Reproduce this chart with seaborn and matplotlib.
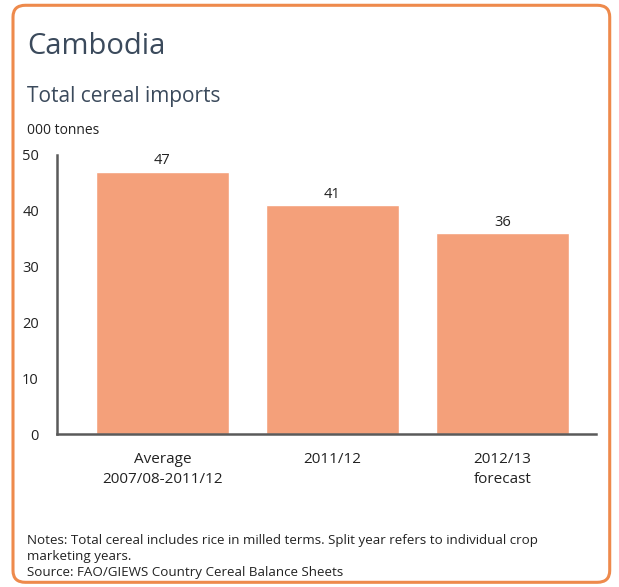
import matplotlib
matplotlib.use("Agg")
import matplotlib.pyplot as plt
import seaborn as sns
import pandas as pd
from matplotlib.patches import FancyBboxPatch

categories = ["Average\n2007/08-2011/12", "2011/12", "2012/13\nforecast"]
imports = [47, 41, 36]

sns.set_style("white")
plt.rcParams["font.family"] = ["Open Sans", "DejaVu Sans"]

df = pd.DataFrame({"period": categories, "imports": imports})

fig = plt.figure(figsize=(6.19, 5.87), dpi=100)
ax = fig.add_axes([0.092, 0.2606, 0.871, 0.4754])

sns.barplot(data=df, x="period", y="imports", color="#F4A07A", saturation=1,
            width=0.78, ax=ax)

for i, v in enumerate(imports):
    ax.text(i, v + 0.6, str(v), ha="center", va="bottom", fontsize=10.5, color="#222222")

ax.set_xlim(-0.62, 2.55)
ax.set_ylim(0, 50)
ax.set_yticks(range(0, 51, 10))
ax.set_xlabel("")
ax.set_ylabel("")
ax.tick_params(axis="both", length=0, colors="#222222")
ax.tick_params(axis="y", pad=13, labelsize=10.5)
ax.tick_params(axis="x", pad=13, labelsize=11)
for lbl in ax.get_xticklabels():
    lbl.set_linespacing(1.45)
for s in ["top", "right"]:
    ax.spines[s].set_visible(False)
for s in ["left", "bottom"]:
    ax.spines[s].set_color("#5a5a5a")
    ax.spines[s].set_linewidth(1.8)

fig.text(0.044, 0.92, "Cambodia", fontsize=21, color="#3b4a5c", va="center")
fig.text(0.044, 0.836, "Total cereal imports", fontsize=15, color="#3b4a5c", va="center")
fig.text(0.044, 0.778, "000 tonnes", fontsize=10, color="#222222", va="center")
fig.text(0.044, 0.052, "Notes: Total cereal includes rice in milled terms. Split year refers to individual crop\nmarketing years.\nSource: FAO/GIEWS Country Cereal Balance Sheets",
         fontsize=9.6, color="#222222", va="center", linespacing=1.3)

border = FancyBboxPatch((0.021, 0.008), 0.964, 0.983, transform=fig.transFigure,
                        boxstyle="round,pad=0,rounding_size=0.02",
                        facecolor="none", edgecolor="#EE8A4C", linewidth=2.2)
fig.patches.append(border)

fig.savefig("out.png", dpi=100, facecolor="white")
